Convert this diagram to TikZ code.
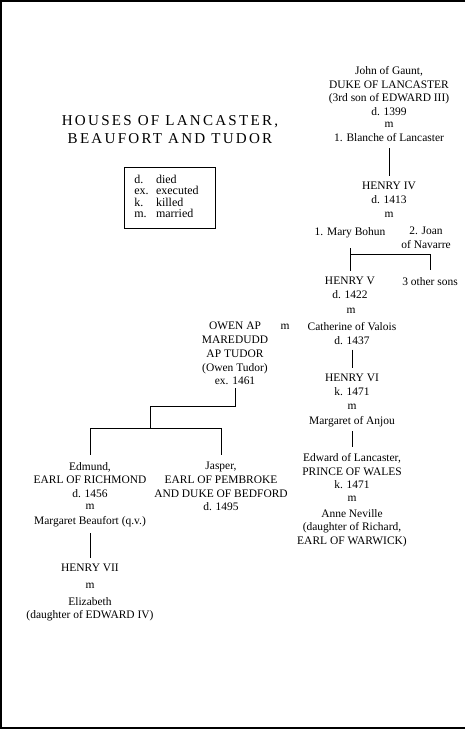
\documentclass[tikz,border=0pt]{standalone}
\usepackage{fontspec}
\setmainfont{Liberation Serif}
\newfontfamily\titlefont[LetterSpace=15]{Liberation Serif}
\usepackage{tikz}

\begin{document}
\begin{tikzpicture}[x=0.75pt,y=0.75pt,yscale=-1,xscale=1,
        person/.style={anchor=north,inner sep=0.75pt,align=center,font=\fontsize{8.6}{10.3}\selectfont},
        link/.style={shorten <=4pt,shorten >=4pt}]
        \useasboundingbox (0,0) rectangle (465,729);

        %Page frame
        \draw [line width=1.5pt] (465,1) -- (1,1) -- (1,728) -- (465,728) ;

        % Title
        \node [anchor=north,inner sep=0.75pt,align=center,font=\titlefont\fontsize{11.3}{13.5}\selectfont] (title) at (170,114) {HOUSES OF LANCASTER,\\BEAUFORT AND TUDOR};
        % Key box
        \node [draw,line width=0.6pt,anchor=north west,minimum height=45.75pt,text width=53.25pt,inner xsep=7.5pt,inner ysep=0pt,font=\fontsize{9}{7.3}\selectfont] (key) at (124,167) {\begin{tabular}{@{}l@{\hspace{5.5pt}}l@{}}d. & died\\ ex. & executed\\ k. & killed\\ m. & married\end{tabular}};

        % Lancaster line
        \node [person] (gaunt) at (389,65) {John of Gaunt,\\DUKE OF LANCASTER\\(3rd son of EDWARD III)\\d. 1399};
        \node [person] (m1) at (389,121) {m};
        \node [person] (blanche) at (389,132) {1. Blanche of Lancaster};
        \node [person] (henryiv) at (389,181) {HENRY IV\\d. 1413};
        \node [person] (m2) at (389,211) {m};
        \node [person] (mary) at (350,226) {1. Mary Bohun};
        \node [person] (joan) at (426,226) {2. Joan\\of Navarre};
        \node [person] (henryv) at (350,276) {HENRY V\\d. 1422};
        \node [person] (others) at (430,276) {3 other sons};
        \node [person] (m3) at (351,307) {m};
        \node [person] (catherine) at (352,321) {Catherine of Valois\\d. 1437};
        \node [person] (henryvi) at (352,373) {HENRY VI\\k. 1471};
        \node [person] (m5) at (352,403) {m};
        \node [person] (margaret) at (352,415) {Margaret of Anjou};
        \node [person] (edward) at (352,452) {Edward of Lancaster,\\PRINCE OF WALES\\k. 1471};
        \node [person] (m6) at (352,495) {m};
        \node [person] (anne) at (352,508) {Anne Neville\\(daughter of Richard,\\EARL OF WARWICK)};

        % Tudor line
        \node [person] (m4) at (285,323) {m};
        \node [person] (owen) at (235,321) {OWEN AP\\MAREDUDD\\AP TUDOR\\(Owen Tudor)\\ex. 1461};
        \node [person] (edmund) at (90,461) {Edmund,\\EARL OF RICHMOND\\d. 1456};
        \node [person] (m7) at (90,503) {m};
        \node [person] (mbeaufort) at (90,515) {Margaret Beaufort (q.v.)};
        \node [person] (jasper) at (221,461) {Jasper,\\EARL OF PEMBROKE\\AND DUKE OF BEDFORD\\d. 1495};
        \node [person] (henryvii) at (90,563) {HENRY VII};
        \node [person] (m8) at (90,582) {m};
        \node [person] (elizabeth) at (90,596) {Elizabeth\\(daughter of EDWARD IV)};

        \coordinate (fork1) at (350,254);
        \coordinate (owenbend) at (150,406);
        \coordinate (fork2) at (150,428);

        % Connectors
        \draw [link] (blanche) -- (henryiv) ;
        \draw [link,shorten <=7pt] (mary) -- (henryv) ;
        \draw [shorten >=4.5pt] (fork1) -| (others.north) ;
        \draw [link,shorten <=3pt] (catherine) -- (henryvi) ;
        \draw [link,shorten <=2.5pt] (margaret) -- (edward) ;
        \draw [shorten <=1.5pt] (owen.south) |- (owenbend) -- (fork2) ;
        \draw [shorten >=4.5pt] (fork2) -| (edmund.north) ;
        \draw [shorten >=4.5pt] (fork2) -| (jasper.north) ;
        \draw [link] (mbeaufort) -- (henryvii) ;

\end{tikzpicture}
\end{document}
